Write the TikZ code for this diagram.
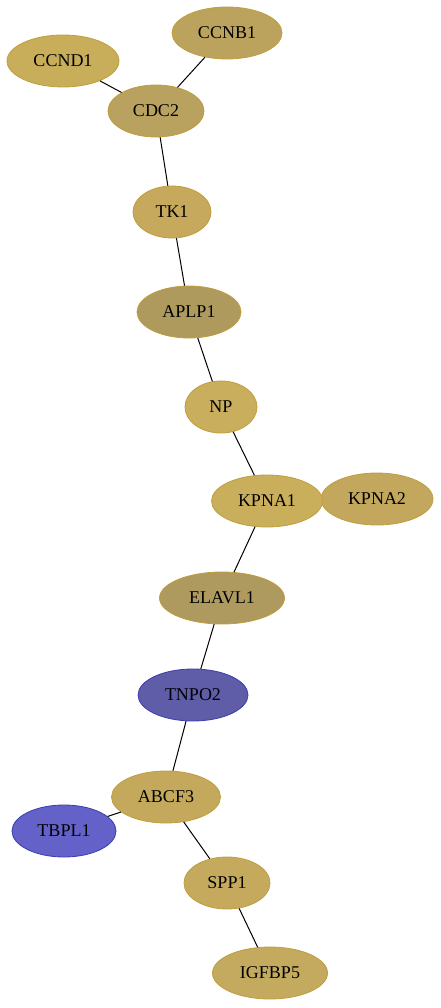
\documentclass[tikz,border=0pt]{standalone}
\usepackage{fontspec}
\setmainfont{Liberation Serif}
\usetikzlibrary{shapes.geometric}
\definecolor{goldline}{HTML}{C09E3E}
\definecolor{blueline}{HTML}{3C3CB0}
\tikzset{
  gene/.style={ellipse, draw=goldline, line width=0.8pt, inner sep=0pt,
    minimum height=52pt, font=\fontsize{18}{20}\selectfont, text=black},
  bluegene/.style={gene, draw=blueline},
  link/.style={draw=black, line width=1pt}
}
\begin{document}
\begin{tikzpicture}[x=1pt,y=-1pt]
\useasboundingbox (0,0) rectangle (440,1008);
\node[gene, fill={rgb,255:red,200;green,173;blue,90}, minimum width=112pt] (ccnd1) at (63,61) {CCND1};
\node[gene, fill={rgb,255:red,188;green,163;blue,93}, minimum width=110pt] (ccnb1) at (227,33) {CCNB1};
\node[gene, fill={rgb,255:red,185;green,161;blue,95}, minimum width=96pt] (cdc2) at (156,111) {CDC2};
\node[gene, fill={rgb,255:red,198;green,169;blue,92}, minimum width=78pt] (tk1) at (172,212) {TK1};
\node[gene, fill={rgb,255:red,175;green,154;blue,94}, minimum width=104pt] (aplp1) at (189,312) {APLP1};
\node[gene, fill={rgb,255:red,201;green,174;blue,93}, minimum width=72pt] (np) at (221,407) {NP};
\node[gene, fill={rgb,255:red,194;green,167;blue,92}, minimum width=112pt] (kpna2) at (377,499) {KPNA2};
\node[gene, fill={rgb,255:red,201;green,174;blue,92}, minimum width=111pt] (kpna1) at (267,501) {KPNA1};
\node[gene, fill={rgb,255:red,174;green,153;blue,94}, minimum width=125pt] (elavl1) at (222,598) {ELAVL1};
\node[bluegene, fill={rgb,255:red,95;green,92;blue,168}, minimum width=110pt] (tnpo2) at (193,695) {TNPO2};
\node[gene, fill={rgb,255:red,196;green,168;blue,92}, minimum width=109pt] (abcf3) at (166,797) {ABCF3};
\node[bluegene, fill={rgb,255:red,100;green,97;blue,200}, minimum width=104pt] (tbpl1) at (64,831) {TBPL1};
\node[gene, fill={rgb,255:red,197;green,170;blue,94}, minimum width=86pt] (spp1) at (227,883) {SPP1};
\node[gene, fill={rgb,255:red,196;green,170;blue,95}, minimum width=115pt] (igfbp5) at (270,973) {IGFBP5};
\draw[link] (ccnd1) -- (cdc2);
\draw[link] (ccnb1) -- (cdc2);
\draw[link] (cdc2) -- (tk1);
\draw[link] (tk1) -- (aplp1);
\draw[link] (aplp1) -- (np);
\draw[link] (np) -- (kpna1);
\draw[link] (kpna1) -- (elavl1);
\draw[link] (elavl1) -- (tnpo2);
\draw[link] (tnpo2) -- (abcf3);
\draw[link] (abcf3) -- (tbpl1);
\draw[link] (abcf3) -- (spp1);
\draw[link] (spp1) -- (igfbp5);
\end{tikzpicture}
\end{document}
